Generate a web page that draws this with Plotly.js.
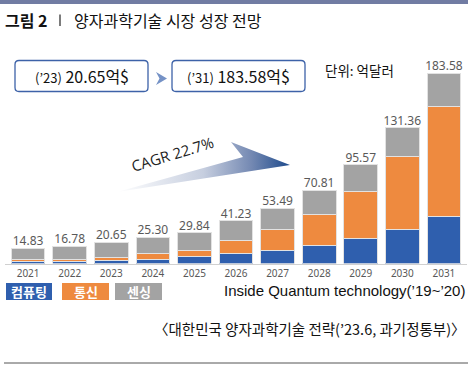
<!DOCTYPE html>
<html><head><meta charset="utf-8">
<script src="https://cdn.plot.ly/plotly-3.0.1.min.js"></script>
<style>html,body{margin:0;padding:0;background:#fff}#c{width:472px;height:366px}</style>
</head><body><div id="c"></div>
<script>
const years = ['2021','2022','2023','2024','2025','2026','2027','2028','2029','2030','2031'];
const computing = [1.5, 1.7, 2.6, 4.2, 6.5, 9.4, 12.9, 17.7, 24.4, 32.9, 45.1];
const communication = [1.9, 2.0, 3.5, 5.2, 5.8, 12.9, 19.7, 29.7, 45.1, 70.5, 106.9];
const sensing = [11.43, 13.08, 14.55, 15.90, 17.54, 18.93, 20.89, 23.41, 26.07, 27.96, 31.58];
const totals = [14.83, 16.78, 20.65, 25.30, 29.84, 41.23, 53.49, 70.81, 95.57, 131.36, 183.58];
const seriesNames = ['컴퓨팅', '통신', '센싱'];

const KR = '"Noto Sans CJK KR", "Noto Sans", sans-serif';
const NUM = '"Noto Sans", "Open Sans", sans-serif';
const cBlue = '#2f5fae', cOrange = '#ee8a3f', cGray = '#a3a3a3';
const W = 472, H = 366;
const bar = (y, name, color) => ({type:'bar', x: years, y, name, marker:{color, line:{color:'#e2e2e2', width:1}}, hoverinfo:'skip'});

const traces = [
  bar(computing, seriesNames[0], cBlue),
  bar(communication, seriesNames[1], cOrange),
  bar(sensing, seriesNames[2], cGray),
  {type:'scatter', mode:'text', x: years, y: totals, text: totals.map(v => v.toFixed(2)),
   textposition:'top center', textfont:{family:NUM, size:12, color:'#595959'}, hoverinfo:'skip', cliponaxis:false},
  // CAGR arrow decoration (pixel space overlay)
  {type:'scatter', mode:'lines', xaxis:'x2', yaxis:'y2',
   x:[117, 243, 231, 290, 117], y:[192, 157, 142, 165, 192],
   fill:'toself', line:{width:0, color:'rgba(0,0,0,0)'},
   fillgradient:{type:'horizontal', colorscale:[[0,'#ffffff'],[0.5,'#c6cedf'],[0.78,'#7388b2'],[1,'#1d4a8c']]},
   hoverinfo:'skip'}
];

function rr(x0,y0,x1,y1,r){
  return `M${x0+r},${y0} H${x1-r} Q${x1},${y0} ${x1},${y0+r} V${y1-r} Q${x1},${y1} ${x1-r},${y1} H${x0+r} Q${x0},${y1} ${x0},${y1-r} V${y0+r} Q${x0},${y0} ${x0+r},${y0} Z`;
}
const P = (o) => Object.assign({xref:'x2', yref:'y2'}, o);

const shapes = [
  P({type:'rect', x0:0, x1:468, y0:0, y1:4, fillcolor:'#717ca3', line:{width:0}}),
  P({type:'line', x0:60, x1:60, y0:14.5, y1:26, line:{color:'#444', width:1.4}}),
  P({type:'path', path: rr(15,60.5,148,91.5,4), line:{color:'#3d62a8', width:1.3}, fillcolor:'#fff'}),
  P({type:'path', path: rr(172,60.5,305,91.5,4), line:{color:'#3d62a8', width:1.3}, fillcolor:'#fff'}),
  P({type:'path', path:'M156,72 L167,78.5 L156,85 L159.5,78.5 Z', fillcolor:'#7592c6', line:{width:0}}),
  P({type:'rect', x0:6, x1:52, y0:283, y1:300, fillcolor:cBlue, line:{width:0}}),
  P({type:'rect', x0:62, x1:109, y0:283, y1:300, fillcolor:cOrange, line:{width:0}}),
  P({type:'rect', x0:115, x1:162, y0:283, y1:300, fillcolor:cGray, line:{width:0}}),
  P({type:'line', x0:4, x1:468, y0:363, y1:363, line:{color:'#555', width:1}})
];

const A = (o) => Object.assign({xref:'x2', yref:'y2', showarrow:false}, o);
const annotations = [
  A({x:3, y:20, xanchor:'left', text:'<b>그림 2</b>', font:{family:KR, size:16, color:'#111'}}),
  A({x:72, y:20, xanchor:'left', text:'양자과학기술 시장 성장 전망', font:{family:KR, size:16, color:'#111'}}),
  A({x:81.5, y:76, text:'<span style="font-size:13px">(’23)</span> 20.65억$', font:{family:KR, size:16, color:'#111'}}),
  A({x:238.5, y:76, text:'<span style="font-size:13px">(’31)</span> 183.58억$', font:{family:KR, size:16, color:'#111'}}),
  A({x:359, y:70, text:'단위: 억달러', font:{family:KR, size:13.5, color:'#111'}}),
  A({x:172, y:154, text:'CAGR 22.7%', textangle:-17, font:{family:'"Open Sans", sans-serif', size:15, color:'#222'}}),
  A({x:29, y:291.5, text:'<b>'+seriesNames[0]+'</b>', font:{family:KR, size:13, color:'#fff'}}),
  A({x:85.5, y:291.5, text:'<b>'+seriesNames[1]+'</b>', font:{family:KR, size:13, color:'#fff'}}),
  A({x:138.5, y:291.5, text:'<b>'+seriesNames[2]+'</b>', font:{family:KR, size:13, color:'#fff'}}),
  A({x:467, y:290, xanchor:'right', text:'Inside Quantum technology(’19~’20)', font:{family:'"Liberation Sans", Arial, sans-serif', size:15, color:'#111'}}),
  A({x:468, y:328, xanchor:'right', text:'〈대한민국 양자과학기술 전략(’23.6, 과기정통부)〉', font:{family:KR, size:14.5, color:'#111'}})
];

const layout = {
  width: W, height: H, margin:{l:0, r:0, t:0, b:0},
  paper_bgcolor:'#fff', plot_bgcolor:'rgba(0,0,0,0)',
  barmode:'stack', bargap:0.19, showlegend:false,
  xaxis:{type:'category', domain:[5/W, 467/W], showline:true, linecolor:'#d0d0d0', linewidth:1,
         ticks:'', showgrid:false, zeroline:false, tickfont:{family:NUM, size:10, color:'#595959'}, fixedrange:true},
  yaxis:{range:[0,200], domain:[(H-263.5)/H, (H-56.5)/H], visible:false, fixedrange:true},
  xaxis2:{domain:[0,1], range:[0,W], visible:false, anchor:'y2', fixedrange:true},
  yaxis2:{domain:[0,1], range:[H,0], visible:false, anchor:'x2', fixedrange:true},
  shapes, annotations
};
Plotly.newPlot('c', traces, layout, {staticPlot:true, displayModeBar:false});
</script></body></html>
